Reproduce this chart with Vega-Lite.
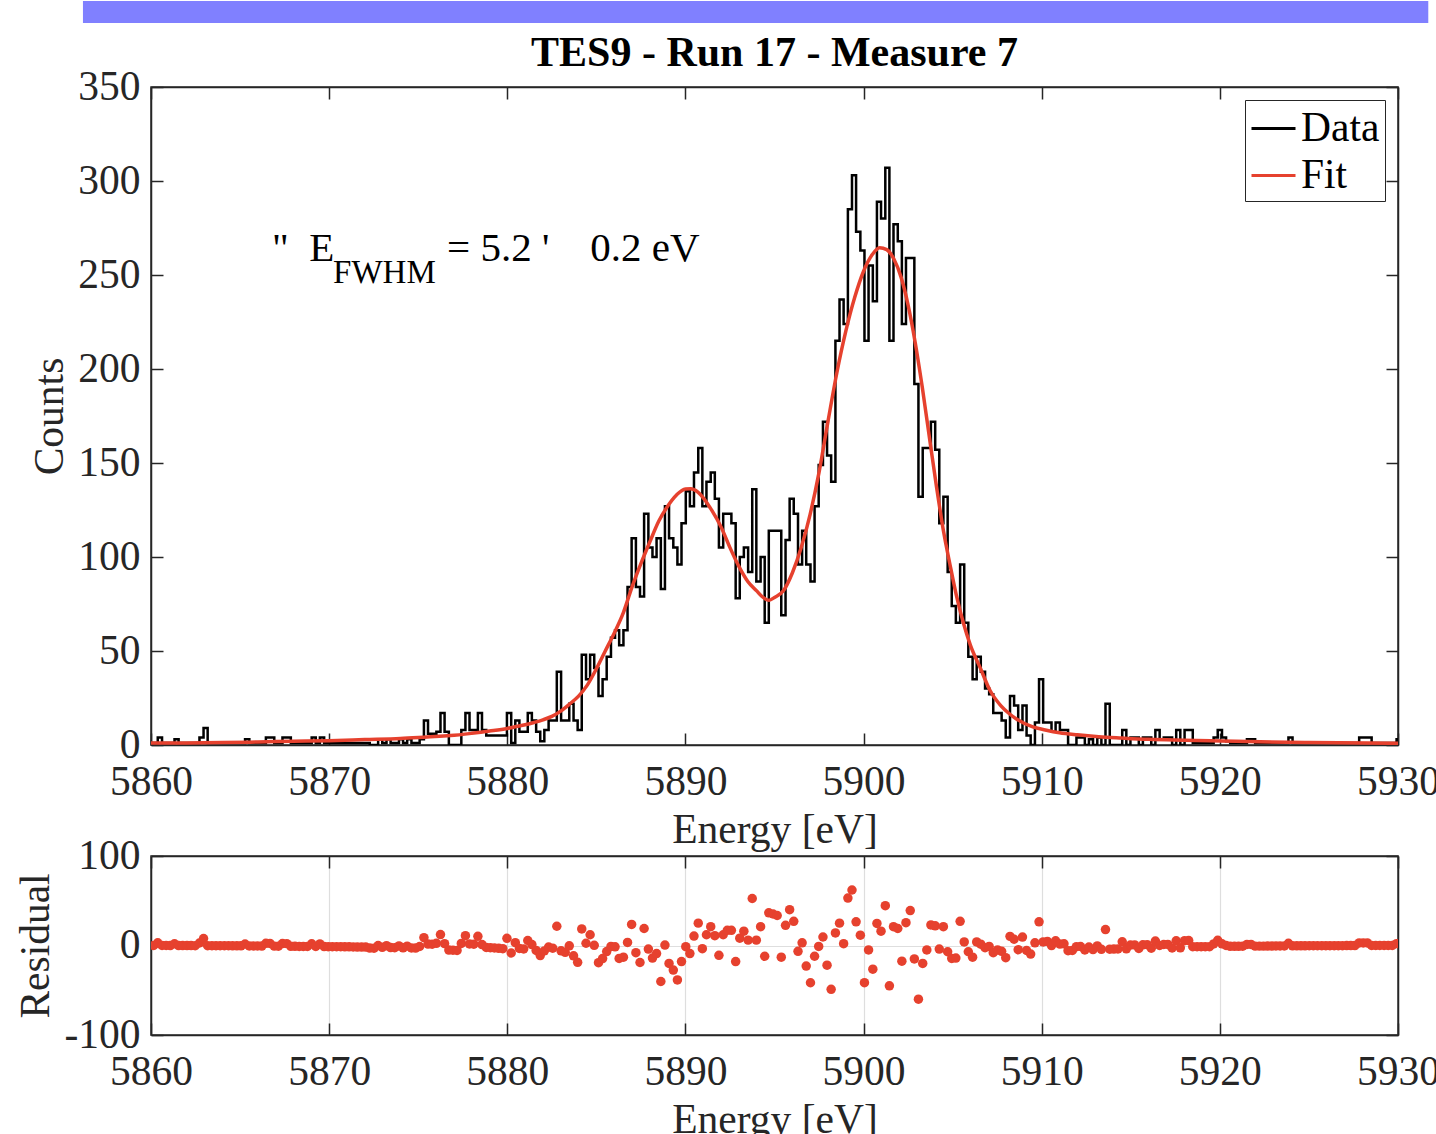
{
"$schema":"https://vega.github.io/schema/vega-lite/v6.json",
"padding":{"left":15,"top":0,"right":0,"bottom":0},
"bounds":"flush",
"spacing":111,
"datasets":{
"hist":[
{"e":5859.92,"c":1},
{"e":5860.15,"c":1,"r":0},{"e":5860.38,"c":4,"r":3},{"e":5860.62,"c":1,"r":0},{"e":5860.85,"c":1,"r":0},{"e":5861.08,"c":1,"r":-0.1},{"e":5861.32,"c":3,"r":1.9},{"e":5861.55,"c":1,"r":-0.1},{"e":5861.78,"c":1,"r":-0.1},{"e":5862.02,"c":1,"r":-0.1},{"e":5862.25,"c":1,"r":-0.1},
{"e":5862.48,"c":1,"r":-0.2},{"e":5862.72,"c":4,"r":2.8},{"e":5862.95,"c":9,"r":7.8},{"e":5863.18,"c":1,"r":-0.2},{"e":5863.42,"c":1,"r":-0.3},{"e":5863.65,"c":1,"r":-0.3},{"e":5863.88,"c":1,"r":-0.3},{"e":5864.12,"c":1,"r":-0.3},{"e":5864.35,"c":1,"r":-0.3},{"e":5864.58,"c":1,"r":-0.4},
{"e":5864.82,"c":1,"r":-0.4},{"e":5865.05,"c":1,"r":-0.4},{"e":5865.28,"c":3,"r":1.6},{"e":5865.52,"c":1,"r":-0.5},{"e":5865.75,"c":1,"r":-0.5},{"e":5865.98,"c":1,"r":-0.5},{"e":5866.22,"c":1,"r":-0.6},{"e":5866.45,"c":4,"r":2.4},{"e":5866.68,"c":4,"r":2.3},{"e":5866.92,"c":1,"r":-0.7},
{"e":5867.15,"c":1,"r":-0.8},{"e":5867.38,"c":4,"r":2.2},{"e":5867.62,"c":4,"r":2.1},{"e":5867.85,"c":1,"r":-0.9},{"e":5868.08,"c":1,"r":-0.9},{"e":5868.32,"c":1,"r":-1},{"e":5868.55,"c":1,"r":-1},{"e":5868.78,"c":1,"r":-1},{"e":5869.02,"c":4,"r":1.9},{"e":5869.25,"c":1,"r":-1.1},
{"e":5869.48,"c":4,"r":1.8},{"e":5869.72,"c":1,"r":-1.2},{"e":5869.95,"c":1,"r":-1.3},{"e":5870.18,"c":1,"r":-1.3},{"e":5870.42,"c":1,"r":-1.4},{"e":5870.65,"c":1,"r":-1.4},{"e":5870.88,"c":1,"r":-1.5},{"e":5871.12,"c":1,"r":-1.5},{"e":5871.35,"c":1,"r":-1.6},{"e":5871.58,"c":1,"r":-1.7},
{"e":5871.82,"c":1,"r":-1.8},{"e":5872.05,"c":1,"r":-1.8},{"e":5872.28,"c":0,"r":-2.9},{"e":5872.52,"c":0,"r":-3},{"e":5872.75,"c":3,"r":0},{"e":5872.98,"c":1,"r":-2.1},{"e":5873.22,"c":3,"r":-0.2},{"e":5873.45,"c":1,"r":-2.3},{"e":5873.68,"c":1,"r":-2.4},{"e":5873.92,"c":3,"r":-0.5},
{"e":5874.15,"c":1,"r":-2.6},{"e":5874.38,"c":3,"r":-0.7},{"e":5874.62,"c":1,"r":-2.8},{"e":5874.85,"c":1,"r":-2.9},{"e":5875.08,"c":3,"r":-1.1},{"e":5875.32,"c":13,"r":8.8},{"e":5875.55,"c":6,"r":1.6},{"e":5875.78,"c":6,"r":1.5},{"e":5876.02,"c":7,"r":2.4},{"e":5876.25,"c":17,"r":12.2},
{"e":5876.48,"c":7,"r":2.1},{"e":5876.72,"c":0,"r":-5.1},{"e":5876.95,"c":0,"r":-5.3},{"e":5877.18,"c":0,"r":-5.5},{"e":5877.42,"c":8,"r":2.3},{"e":5877.65,"c":17,"r":11},{"e":5877.88,"c":8,"r":1.8},{"e":5878.12,"c":8,"r":1.5},{"e":5878.35,"c":17,"r":10.3},{"e":5878.58,"c":8,"r":1},
{"e":5878.82,"c":5,"r":-2.2},{"e":5879.05,"c":5,"r":-2.5},{"e":5879.28,"c":5,"r":-2.8},{"e":5879.52,"c":5,"r":-3.2},{"e":5879.75,"c":5,"r":-3.6},{"e":5879.98,"c":17,"r":8},{"e":5880.22,"c":1,"r":-8.4},{"e":5880.45,"c":13,"r":3.2},{"e":5880.68,"c":7,"r":-3.3},{"e":5880.92,"c":7,"r":-3.8},
{"e":5881.15,"c":17,"r":5.6},{"e":5881.38,"c":13,"r":1},{"e":5881.62,"c":7,"r":-5.5},{"e":5881.85,"c":2,"r":-11.3},{"e":5882.08,"c":8,"r":-6},{"e":5882.32,"c":13,"r":-1.7},{"e":5882.55,"c":13,"r":-3},{"e":5882.78,"c":39,"r":21.5},{"e":5883.02,"c":13,"r":-5.9},{"e":5883.25,"c":13,"r":-7.6},
{"e":5883.48,"c":22,"r":-0.4},{"e":5883.72,"c":13,"r":-11.5},{"e":5883.95,"c":8,"r":-18.8},{"e":5884.18,"c":48,"r":18.5},{"e":5884.42,"c":35,"r":2.5},{"e":5884.65,"c":48,"r":12},{"e":5884.88,"c":41,"r":0.2},{"e":5885.12,"c":26,"r":-19.2},{"e":5885.35,"c":35,"r":-14.6},{"e":5885.58,"c":47,"r":-6.8},
{"e":5885.82,"c":57,"r":-1},{"e":5886.05,"c":61,"r":-1.5},{"e":5886.28,"c":53,"r":-14.5},{"e":5886.52,"c":61,"r":-13},{"e":5886.75,"c":84,"r":3.4},{"e":5886.98,"c":110,"r":23.5},{"e":5887.22,"c":84,"r":-8},{"e":5887.45,"c":79,"r":-19},{"e":5887.68,"c":123,"r":19},{"e":5887.92,"c":105,"r":-4},
{"e":5888.15,"c":100,"r":-14},{"e":5888.38,"c":110,"r":-9},{"e":5888.62,"c":83,"r":-40.2},{"e":5888.85,"c":127,"r":0.5},{"e":5889.08,"c":110,"r":-20},{"e":5889.32,"c":105,"r":-27.5},{"e":5889.55,"c":96,"r":-38.5},{"e":5889.78,"c":118,"r":-18},{"e":5890.02,"c":135,"r":-1.3},{"e":5890.25,"c":127,"r":-9},
{"e":5890.48,"c":145,"r":10.5},{"e":5890.72,"c":158,"r":25},{"e":5890.95,"c":127,"r":-3.5},{"e":5891.18,"c":140,"r":12},{"e":5891.42,"c":145,"r":21},{"e":5891.65,"c":131,"r":11},{"e":5891.88,"c":105,"r":-11},{"e":5892.12,"c":123,"r":12},{"e":5892.35,"c":123,"r":17},{"e":5892.58,"c":118,"r":17},
{"e":5892.82,"c":78,"r":-18},{"e":5893.05,"c":100,"r":8.2},{"e":5893.28,"c":105,"r":16},{"e":5893.52,"c":92,"r":6},{"e":5893.75,"c":136,"r":52.5},{"e":5893.98,"c":87,"r":6},{"e":5894.22,"c":100,"r":21},{"e":5894.45,"c":65,"r":-12},{"e":5894.68,"c":114,"r":36.5},{"e":5894.92,"c":114,"r":35.2},
{"e":5895.15,"c":114,"r":33.5},{"e":5895.38,"c":69,"r":-13},{"e":5895.62,"c":109,"r":22.5},{"e":5895.85,"c":131,"r":40},{"e":5896.08,"c":123,"r":27},{"e":5896.32,"c":96,"r":-6.5},{"e":5896.55,"c":114,"r":3},{"e":5896.78,"c":96,"r":-23},{"e":5897.02,"c":87,"r":-41.6},{"e":5897.25,"c":127,"r":-12},
{"e":5897.48,"c":149,"r":-1},{"e":5897.72,"c":172,"r":9.5},{"e":5897.95,"c":154,"r":-22},{"e":5898.18,"c":140,"r":-49},{"e":5898.42,"c":215,"r":14},{"e":5898.65,"c":237,"r":25},{"e":5898.88,"c":224,"r":2},{"e":5899.12,"c":285,"r":53},{"e":5899.35,"c":303,"r":62},{"e":5899.58,"c":273,"r":26.5},
{"e":5899.82,"c":263,"r":11.5},{"e":5900.05,"c":215,"r":-41.5},{"e":5900.28,"c":255,"r":-5},{"e":5900.52,"c":236,"r":-26.5},{"e":5900.75,"c":289,"r":24.7},{"e":5900.98,"c":280,"r":16},{"e":5901.22,"c":307,"r":44.5},{"e":5901.45,"c":215,"r":-45},{"e":5901.68,"c":277,"r":21},{"e":5901.92,"c":268,"r":19},
{"e":5902.15,"c":224,"r":-17.5},{"e":5902.38,"c":259,"r":25.5},{"e":5902.62,"c":259,"r":39},{"e":5902.85,"c":192,"r":-15},{"e":5903.08,"c":132,"r":-60},{"e":5903.32,"c":158,"r":-20},{"e":5903.55,"c":158,"r":-5},{"e":5903.78,"c":172,"r":23},{"e":5904.02,"c":157,"r":22},{"e":5904.25,"c":118,"r":-4},
{"e":5904.48,"c":132,"r":21},{"e":5904.72,"c":92,"r":-7},{"e":5904.95,"c":74,"r":-14.5},{"e":5905.18,"c":65,"r":-14},{"e":5905.42,"c":96,"r":27},{"e":5905.65,"c":65,"r":4},{"e":5905.88,"c":47,"r":-7},{"e":5906.12,"c":35,"r":-13},{"e":5906.35,"c":47,"r":4},{"e":5906.58,"c":39,"r":1.5},
{"e":5906.82,"c":30,"r":-2.5},{"e":5907.05,"c":27,"r":-1},{"e":5907.28,"c":17,"r":-8},{"e":5907.52,"c":17,"r":-5},{"e":5907.75,"c":13,"r":-6.5},{"e":5907.98,"c":4,"r":-13.6},{"e":5908.22,"c":26,"r":10.2},{"e":5908.45,"c":21,"r":7},{"e":5908.68,"c":8,"r":-4.7},{"e":5908.92,"c":21,"r":9.4},
{"e":5909.15,"c":5,"r":-5.6},{"e":5909.38,"c":0,"r":-9.6},{"e":5909.62,"c":12,"r":3},{"e":5909.85,"c":35,"r":26.5},{"e":5910.08,"c":12,"r":4},{"e":5910.32,"c":12,"r":4.5},{"e":5910.55,"c":7,"r":-0.1},{"e":5910.78,"c":12,"r":5.3},{"e":5911.02,"c":8,"r":1.6},{"e":5911.25,"c":8,"r":1.9},
{"e":5911.48,"c":0,"r":-5.8},{"e":5911.72,"c":0,"r":-5.5},{"e":5911.95,"c":4,"r":-1.3},{"e":5912.18,"c":4,"r":-1.1},{"e":5912.42,"c":0,"r":-4.9},{"e":5912.65,"c":3,"r":-1.7},{"e":5912.88,"c":0,"r":-4.6},{"e":5913.12,"c":4,"r":-0.5},{"e":5913.35,"c":0,"r":-4.3},{"e":5913.58,"c":22,"r":17.8},
{"e":5913.82,"c":0,"r":-4.1},{"e":5914.05,"c":0,"r":-4},{"e":5914.28,"c":0,"r":-3.9},{"e":5914.52,"c":8,"r":4.2},{"e":5914.75,"c":0,"r":-3.7},{"e":5914.98,"c":4,"r":0.5},{"e":5915.22,"c":4,"r":0.6},{"e":5915.45,"c":0,"r":-3.3},{"e":5915.68,"c":4,"r":0.8},{"e":5915.92,"c":4,"r":0.9},
{"e":5916.15,"c":0,"r":-3},{"e":5916.38,"c":8,"r":5},{"e":5916.62,"c":3,"r":0.1},{"e":5916.85,"c":4,"r":1.1},{"e":5917.08,"c":4,"r":1.2},{"e":5917.32,"c":0,"r":-2.8},{"e":5917.55,"c":8,"r":5.3},{"e":5917.78,"c":0,"r":-2.6},{"e":5918.02,"c":8,"r":5.4},{"e":5918.25,"c":8,"r":5.5},
{"e":5918.48,"c":1,"r":-1.4},{"e":5918.72,"c":1,"r":-1.4},{"e":5918.95,"c":1,"r":-1.4},{"e":5919.18,"c":1,"r":-1.3},{"e":5919.42,"c":1,"r":-1.3},{"e":5919.65,"c":4,"r":1.7},{"e":5919.88,"c":8,"r":5.8},{"e":5920.12,"c":4,"r":1.9},{"e":5920.35,"c":2,"r":0},{"e":5920.58,"c":1,"r":-0.9},
{"e":5920.82,"c":1,"r":-0.9},{"e":5921.05,"c":1,"r":-0.9},{"e":5921.28,"c":1,"r":-0.8},{"e":5921.52,"c":3,"r":1.2},{"e":5921.75,"c":3,"r":1.2},{"e":5921.98,"c":1,"r":-0.7},{"e":5922.22,"c":1,"r":-0.7},{"e":5922.45,"c":1,"r":-0.7},{"e":5922.68,"c":1,"r":-0.6},{"e":5922.92,"c":1,"r":-0.6},
{"e":5923.15,"c":1,"r":-0.5},{"e":5923.38,"c":1,"r":-0.5},{"e":5923.62,"c":1,"r":-0.5},{"e":5923.85,"c":4,"r":2.5},{"e":5924.08,"c":1,"r":-0.4},{"e":5924.32,"c":1,"r":-0.4},{"e":5924.55,"c":1,"r":-0.4},{"e":5924.78,"c":1,"r":-0.4},{"e":5925.02,"c":1,"r":-0.3},{"e":5925.25,"c":1,"r":-0.3},
{"e":5925.48,"c":1,"r":-0.3},{"e":5925.72,"c":1,"r":-0.3},{"e":5925.95,"c":1,"r":-0.2},{"e":5926.18,"c":1,"r":-0.2},{"e":5926.42,"c":1,"r":-0.2},{"e":5926.65,"c":1,"r":-0.2},{"e":5926.88,"c":1,"r":-0.2},{"e":5927.12,"c":1,"r":-0.1},{"e":5927.35,"c":1,"r":-0.1},{"e":5927.58,"c":1,"r":-0.1},
{"e":5927.82,"c":4,"r":2.9},{"e":5928.05,"c":4,"r":2.9},{"e":5928.28,"c":4,"r":2.9},{"e":5928.52,"c":1,"r":0},{"e":5928.75,"c":1,"r":0},{"e":5928.98,"c":1,"r":0},{"e":5929.22,"c":1,"r":0},{"e":5929.45,"c":1,"r":0},{"e":5929.68,"c":1,"r":0.1},{"e":5929.92,"c":3,"r":2.1},
{"e":5930.15,"c":3}
],
"fit":[
{"e":5860,"f":1.0},{"e":5862,"f":1.1},{"e":5864,"f":1.3},{"e":5866,"f":1.6},{"e":5868,"f":2.0},{"e":5870,"f":2.3},{"e":5872,"f":2.9},{"e":5874,"f":3.5},{"e":5875.5,"f":4.3},{"e":5876.8,"f":5.0},
{"e":5878,"f":6.2},{"e":5879,"f":7.4},{"e":5880,"f":8.8},{"e":5880.5,"f":9.8},{"e":5881,"f":10.8},{"e":5881.5,"f":12},{"e":5882,"f":13.4},{"e":5882.5,"f":15.2},{"e":5883,"f":18},{"e":5883.5,"f":21.8},
{"e":5884,"f":26},{"e":5884.5,"f":32},{"e":5885,"f":40.5},{"e":5885.5,"f":50},{"e":5886,"f":59.5},{"e":5886.5,"f":70},{"e":5887,"f":84},{"e":5887.5,"f":96.5},{"e":5888,"f":108},{"e":5888.5,"f":119},
{"e":5889,"f":127},{"e":5889.5,"f":133},{"e":5890,"f":136.2},{"e":5890.3,"f":136.3},{"e":5890.7,"f":134.5},{"e":5891,"f":131.5},{"e":5891.5,"f":124.5},{"e":5892,"f":116},{"e":5892.5,"f":105},{"e":5893,"f":95},
{"e":5893.5,"f":87},{"e":5894,"f":82},{"e":5894.3,"f":79},{"e":5894.7,"f":77},{"e":5895,"f":78.5},{"e":5895.5,"f":82},{"e":5896,"f":91.5},{"e":5896.5,"f":105},{"e":5897,"f":122.7},{"e":5897.5,"f":145},
{"e":5898,"f":172},{"e":5898.5,"f":198},{"e":5899,"f":220},{"e":5899.5,"f":238},{"e":5900,"f":252},{"e":5900.5,"f":261},{"e":5900.9,"f":264.5},{"e":5901.3,"f":263.5},{"e":5901.7,"f":258.5},{"e":5902.1,"f":249},
{"e":5902.5,"f":234},{"e":5902.9,"f":214},{"e":5903.3,"f":190},{"e":5903.75,"f":160},{"e":5904.1,"f":137},{"e":5904.5,"f":113},{"e":5904.85,"f":96},{"e":5905.2,"f":80},{"e":5905.6,"f":65},
{"e":5906,"f":53},{"e":5906.55,"f":41},{"e":5907.1,"f":29},{"e":5907.7,"f":21},{"e":5908.2,"f":16.5},{"e":5908.6,"f":13.7},{"e":5909.5,"f":9.6},{"e":5910.2,"f":8},{"e":5911,"f":6.5},{"e":5912,"f":5.4},
{"e":5913.2,"f":4.4},{"e":5914.5,"f":3.7},{"e":5916,"f":3.0},{"e":5918,"f":2.5},{"e":5921.6,"f":1.8},{"e":5925,"f":1.3},{"e":5930,"f":0.9}
]
},
"vconcat":[
{
"width":1247,"height":658,
"layer":[
{"data":{"values":[{}]},"mark":{"type":"rect","clip":false,"color":"#8080FF"},
 "encoding":{"x":{"datum":5856.18,"type":"quantitative","axis":null,"scale":{"domain":[5860,5930],"nice":false,"zero":false}},"x2":{"datum":5931.7},
 "y":{"datum":395.74,"type":"quantitative","axis":null,"scale":{"domain":[0,350],"nice":false,"zero":false}},"y2":{"datum":384.04}}},
{"data":{"values":[{}]},"mark":{"type":"text","clip":false,"font":"Liberation Serif","fontSize":42,"fontWeight":"bold","color":"black","align":"center","baseline":"alphabetic"},
 "encoding":{"x":{"datum":5895,"type":"quantitative","axis":null,"scale":{"domain":[5860,5930],"nice":false,"zero":false}},
 "y":{"datum":361,"type":"quantitative","axis":null,"scale":{"domain":[0,350],"nice":false,"zero":false}},"text":{"value":"TES9 - Run 17 - Measure 7"}}},
{"data":{"name":"hist"},"mark":{"type":"line","interpolate":"step-after","strokeWidth":2.5,"clip":true},
 "encoding":{"x":{"field":"e","type":"quantitative","scale":{"domain":[5860,5930],"nice":false,"zero":false},
   "axis":{"orient":"bottom","values":[5860,5870,5880,5890,5900,5910,5920,5930],"format":"d","title":"Energy [eV]","labelPadding":28,"titlePadding":7}},
  "y":{"field":"c","type":"quantitative","scale":{"domain":[0,350],"nice":false,"zero":false},
   "axis":{"orient":"left","values":[0,50,100,150,200,250,300,350],"format":"d","title":"Counts","labelPadding":23,"titlePadding":6}},
  "color":{"datum":"Data","type":"nominal","scale":{"domain":["Data","Fit"],"range":["#000000","#E6412E"]},
   "legend":{"orient":"top-right","offset":13,"title":null,"symbolType":"stroke","symbolSize":1936,"symbolStrokeWidth":3,"labelFontSize":41.5,"labelFont":"Liberation Serif","labelColor":"#000000","strokeColor":"#262626","fillColor":"#ffffff","padding":5,"rowPadding":3,"labelOffset":4}}}},
{"data":{"name":"fit"},"mark":{"type":"line","interpolate":"monotone","strokeWidth":3.5,"clip":true},
 "encoding":{"x":{"field":"e","type":"quantitative","scale":{"domain":[5860,5930],"nice":false,"zero":false},
   "axis":{"orient":"top","values":[5860,5870,5880,5890,5900,5910,5920,5930],"labels":false,"title":null}},
  "y":{"field":"f","type":"quantitative","scale":{"domain":[0,350],"nice":false,"zero":false},
   "axis":{"orient":"right","values":[0,50,100,150,200,250,300,350],"labels":false,"title":null}},
  "color":{"datum":"Fit","type":"nominal"}}},
{"data":{"values":[{}]},"mark":{"type":"text","font":"Liberation Serif","fontSize":41,"color":"black","align":"left","baseline":"alphabetic"},
 "encoding":{"x":{"datum":5866.79,"type":"quantitative","axis":null,"scale":{"domain":[5860,5930],"nice":false,"zero":false}},
 "y":{"datum":257.4,"type":"quantitative","axis":null,"scale":{"domain":[0,350],"nice":false,"zero":false}},"text":{"value":"\"\u00a0\u00a0E"}}},
{"data":{"values":[{}]},"mark":{"type":"text","font":"Liberation Serif","fontSize":33,"color":"black","align":"left","baseline":"alphabetic"},
 "encoding":{"x":{"datum":5870.22,"type":"quantitative","axis":null,"scale":{"domain":[5860,5930],"nice":false,"zero":false}},
 "y":{"datum":245.7,"type":"quantitative","axis":null,"scale":{"domain":[0,350],"nice":false,"zero":false}},"text":{"value":"FWHM"}}},
{"data":{"values":[{}]},"mark":{"type":"text","font":"Liberation Serif","fontSize":41,"color":"black","align":"left","baseline":"alphabetic"},
 "encoding":{"x":{"datum":5876.62,"type":"quantitative","axis":null,"scale":{"domain":[5860,5930],"nice":false,"zero":false}},
 "y":{"datum":257.4,"type":"quantitative","axis":null,"scale":{"domain":[0,350],"nice":false,"zero":false}},"text":{"value":"= 5.2 '\u00a0\u00a0\u00a0\u00a00.2 eV"}}}
],
"resolve":{"axis":{"x":"independent","y":"independent"}}
},
{
"width":1247,"height":179,
"data":{"name":"hist"},
"layer":[
{"mark":{"type":"point","filled":true,"size":90,"color":"#E6412E","opacity":1,"clip":true},
 "encoding":{"x":{"field":"e","type":"quantitative","scale":{"domain":[5860,5930],"nice":false,"zero":false},
   "axis":{"orient":"bottom","values":[5860,5870,5880,5890,5900,5910,5920,5930],"format":"d","title":"Energy [eV]","labelPadding":28,"titlePadding":7,"grid":true}},
  "y":{"field":"r","type":"quantitative","scale":{"domain":[-100,100],"nice":false,"zero":false},
   "axis":{"orient":"left","values":[-100,0,100],"labelExpr":"''+datum.value","title":"Residual","labelPadding":23,"titlePadding":6,"grid":true}}}},
{"mark":{"type":"point","opacity":0},
 "encoding":{"x":{"field":"e","type":"quantitative","scale":{"domain":[5860,5930],"nice":false,"zero":false},
   "axis":{"orient":"top","values":[5860,5870,5880,5890,5900,5910,5920,5930],"labels":false,"title":null}},
  "y":{"field":"r","type":"quantitative","scale":{"domain":[-100,100],"nice":false,"zero":false},
   "axis":{"orient":"right","values":[-100,0,100],"labels":false,"title":null}}}}
],
"resolve":{"axis":{"x":"independent","y":"independent"}}
}
],
"config":{
"font":"Liberation Serif",
"view":{"stroke":"#262626","strokeWidth":1.5},
"axis":{"domainColor":"#262626","domainWidth":1.5,"tickColor":"#262626","tickWidth":1.5,"tickSize":-12,"labelFont":"Liberation Serif","labelFontSize":41.5,"labelColor":"#262626","titleFont":"Liberation Serif","titleFontSize":41.5,"titleColor":"#262626","titleFontWeight":"normal","labelFlush":false,"labelOverlap":false,"gridColor":"#dedede","gridWidth":1.2,"grid":false}
}
}
